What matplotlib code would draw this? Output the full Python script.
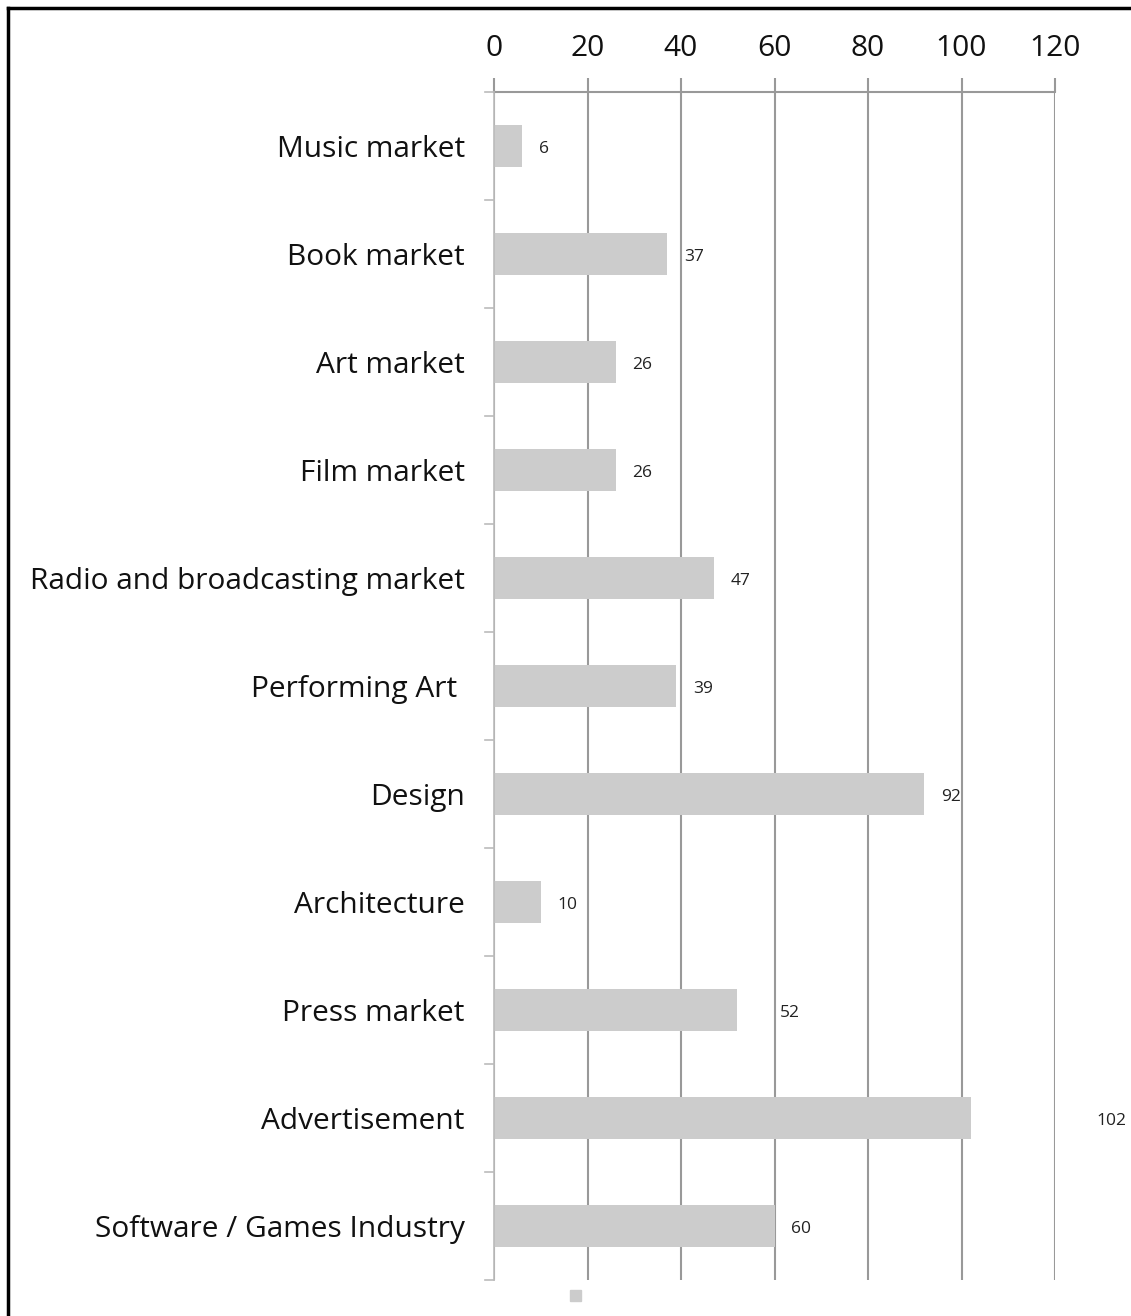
import matplotlib.pyplot as plt
from matplotlib.patches import Rectangle
from matplotlib.lines import Line2D

categories = ["Music market", "Book market", "Art market", "Film market",
              "Radio and broadcasting market", "Performing Art ", "Design",
              "Architecture", "Press market", "Advertisement",
              "Software / Games Industry"]
values = [6, 37, 26, 26, 47, 39, 92, 10, 52, 102, 60]
xticks = [0, 20, 40, 60, 80, 100, 120]

plt.rcParams['font.family'] = ['Open Sans', 'DejaVu Sans']

fig = plt.figure(figsize=(11.31, 13.16), dpi=100)
ax = fig.add_axes([494 / 1131, 1 - 1280 / 1316, (1055 - 494) / 1131, (1280 - 92) / 1316])

ypos = list(range(len(categories)))
ax.barh(ypos, values, height=0.39, color='#cccccc', zorder=2)

# value labels; a couple sit further out in the original
extra = {8: 5.5, 9: 23.3}
for i, v in enumerate(values):
    ax.text(v + 3.6 + extra.get(i, 0), i + 0.03, str(v), va='center', ha='left',
            fontsize=12.5, color='#222222')

ax.set_xlim(0, 120)
ax.set_ylim(len(categories) - 0.5, -0.5)
ax.set_xticks(xticks)
ax.xaxis.tick_top()
ax.tick_params(axis='x', length=10, width=1.5, color='#999999', pad=11,
               labelsize=21.5, labelcolor='#111111')
ax.grid(axis='x', color='#999999', linewidth=1.5, zorder=0)

ax.set_yticks(ypos)
ax.set_yticklabels(categories, fontsize=21.5, color='#111111')
ax.tick_params(axis='y', length=0, pad=21)
# boundary ticks on the category axis
for b in range(len(categories) + 1):
    ax.plot([-9 / 4.675, 0], [b - 0.5, b - 0.5], color='#bbbbbb', lw=1.2,
            clip_on=False, zorder=3)

ax.spines['right'].set_visible(False)
ax.spines['bottom'].set_visible(False)
ax.spines['top'].set_color('#999999')
ax.spines['top'].set_linewidth(1.5)
ax.spines['left'].set_color('#bbbbbb')
ax.spines['left'].set_linewidth(1.2)

# lone legend swatch
fig.patches.append(Rectangle((570 / 1131, 1 - 1301 / 1316), 11 / 1131, 11 / 1316,
                             transform=fig.transFigure, color='#cccccc'))

# frame lines along left and top
fig.add_artist(Line2D([8 / 1131, 8 / 1131], [0, 1 - 8 / 1316], color='black', lw=2.5,
                      transform=fig.transFigure))
fig.add_artist(Line2D([8 / 1131, 1], [1 - 8 / 1316, 1 - 8 / 1316], color='black', lw=2.5,
                      transform=fig.transFigure))

fig.savefig('out.png', dpi=100)
